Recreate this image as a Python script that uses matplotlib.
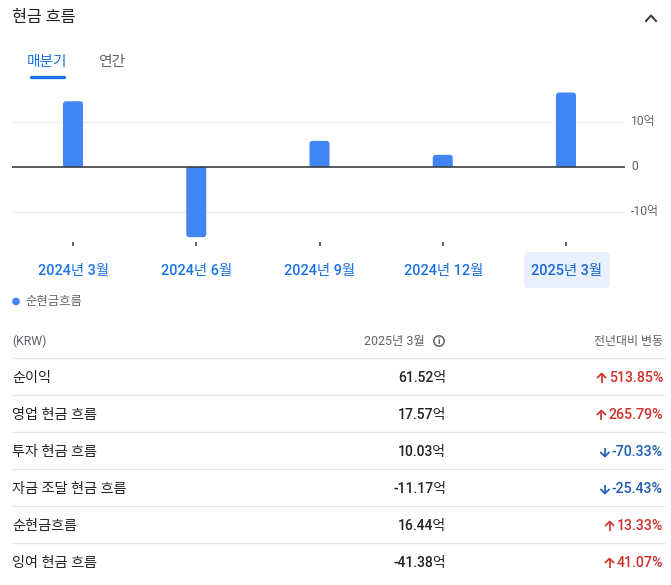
import matplotlib
matplotlib.use('Agg')
import matplotlib.pyplot as plt
from matplotlib.patches import FancyBboxPatch, Circle, Rectangle

plt.rcParams['font.family'] = ['Roboto', 'Noto Sans CJK KR', 'DejaVu Sans']

W, H = 671, 585

# data
quarters = ['2024년 3월', '2024년 6월', '2024년 9월', '2024년 12월', '2025년 3월']
net_cash = [14.5, -15.7, 5.7, 2.6, 16.44]  # 억
y_ticks = [10, 0, -10]
y_tick_labels = ['10억', '0', '-10억']

row_names = ['순이익', '영업 현금 흐름', '투자 현금 흐름', '자금 조달 현금 흐름', '순현금흐름', '잉여 현금 흐름']
row_values = ['61.52억', '17.57억', '10.03억', '-11.17억', '16.44억', '-41.38억']
row_changes = ['513.85%', '265.79%', '-70.33%', '-25.43%', '13.33%', '41.07%']
row_up = [True, True, False, False, True, True]

BLUE = '#4285f4'
LINK = '#1a73e8'
DARK = '#202124'
GREY = '#5f6368'
RED = '#cf2f2a'
DOWN = '#1a5bb5'
RULE = '#e4e6e8'

fig = plt.figure(figsize=(W / 100, H / 100), dpi=100, facecolor='white')

# page layer in pixel coords
page = fig.add_axes([0, 0, 1, 1])
page.set_xlim(0, W)
page.set_ylim(H, 0)
page.axis('off')

# chart layer: 12..625 px wide, 80..250 px tall
px_left, px_right, px_top, px_bottom = 12, 625, 80, 250
ax = fig.add_axes([px_left / W, 1 - px_bottom / H, (px_right - px_left) / W, (px_bottom - px_top) / H])
ax.patch.set_alpha(0)
step = 123.25
ax.set_xlim((px_left - 73) / step, (px_right - 73) / step)
zero_px, per_unit = 166.5, 4.5
ax.set_ylim((zero_px - px_bottom) / per_unit, (zero_px - px_top) / per_unit)
for s in ax.spines.values():
    s.set_visible(False)
ax.set_xticks([])
ax.set_yticks([])

for t in y_ticks:
    if t != 0:
        ax.axhline(t, color='#eef0f1', lw=1, zorder=1)

bar_w = 20 / step
aspect = step / per_unit
over = 1.0  # rounded box runs past the baseline, clipped off there
for i, v in enumerate(net_cash):
    y0 = v if v < 0 else -over
    box = FancyBboxPatch((i - bar_w / 2, y0), bar_w, abs(v) + over,
                         boxstyle='round,pad=0,rounding_size=0.024',
                         mutation_aspect=aspect, fc=BLUE, ec='none', zorder=2, snap=False)
    ax.add_patch(box)
    box.set_clip_path(Rectangle((i - 2 * bar_w, min(v, 0) - 1), 4 * bar_w, abs(v) + 1,
                                transform=ax.transData) if v < 0 else
                      Rectangle((i - 2 * bar_w, 0), 4 * bar_w, v + 1, transform=ax.transData))
ax.axhline(0, color='#3c4043', lw=1.2, zorder=3)

for t, lab in zip(y_ticks, y_tick_labels):
    page.text(631, zero_px - t * per_unit + 0.5, lab, fontsize=8.7, color=GREY, ha='left', va='center')

# selected quarter highlight
page.add_patch(FancyBboxPatch((524, 252), 86, 36, boxstyle='round,pad=0,rounding_size=4',
                              fc='#e8f0fe', ec='none'))
for i, q in enumerate(quarters):
    cx = 73 + i * step
    page.plot([cx, cx], [241.5, 245.5], color='#5f6368', lw=1.4, solid_capstyle='butt')
    page.text(cx + (0.5 if i < 4 else 1), 270.5, q, fontsize=10.4, color=LINK if i < 4 else '#1967d2',
              ha='center', va='center', fontweight='medium')

# header
page.text(12, 17.5, '현금 흐름', fontsize=11.7, color=DARK, ha='left', va='center', fontweight='medium')
page.plot([646, 651, 656], [21, 15.5, 21], color='#3c4043', lw=1.5)
page.text(47.5, 62, '매분기', fontsize=10.6, color=LINK, ha='center', va='center', fontweight='medium')
page.text(112, 62, '연간', fontsize=10.6, color=GREY, ha='center', va='center', fontweight='medium')
page.plot([31, 64], [76.5, 76.5], color=LINK, lw=2.4, solid_capstyle='round')

# legend
page.add_patch(Circle((16, 301.5), 3.8, fc=BLUE, ec='none'))
page.text(25.5, 301.5, '순현금흐름', fontsize=8.9, color=GREY, ha='left', va='center')

# table header
page.text(12, 341, '(KRW)', fontsize=8.8, color=GREY, ha='left', va='center')
page.text(425, 341, '2025년 3월', fontsize=8.9, color=GREY, ha='right', va='center')
page.add_patch(Circle((439, 341), 5.2, fc='none', ec=GREY, lw=1.1))
page.text(439, 341, 'i', fontsize=6.8, color=GREY, ha='center', va='center', fontweight='bold')
page.text(663, 341, '전년대비 변동', fontsize=8.6, color=GREY, ha='right', va='center')

rule_ys = [358, 395, 432, 469, 506, 543]
for y in rule_ys:
    page.plot([12, 664], [y, y], color=RULE, lw=1)

renderer = fig.canvas.get_renderer()
for i in range(len(row_names)):
    y = rule_ys[i] + 20
    page.text(12, y, row_names[i], fontsize=10.2, color=DARK, ha='left', va='center', fontweight='medium')
    page.text(446, y, row_values[i], fontsize=10, color=DARK, ha='right', va='center', fontweight='medium')
    col = RED if row_up[i] else DOWN
    txt = page.text(663, y, row_changes[i], fontsize=10.2, color=col, ha='right', va='center',
                    fontweight='medium')
    # small arrow just left of the percentage
    ax_x = txt.get_window_extent(renderer).x0 - 7
    d = -1 if row_up[i] else 1
    page.plot([ax_x, ax_x], [y - 4.5 * d, y + 4.5 * d], color=col, lw=1.2, solid_capstyle='butt')
    page.plot([ax_x - 4, ax_x, ax_x + 4], [y + 0.5 * d, y + 4.5 * d, y + 0.5 * d], color=col, lw=1.2)

fig.savefig('out.png', dpi=100)
